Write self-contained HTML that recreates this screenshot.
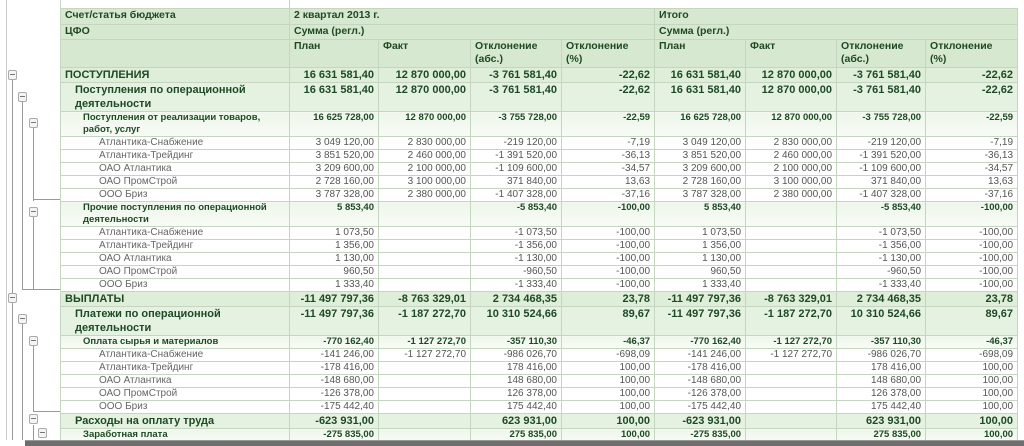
<!DOCTYPE html>
<html><head><meta charset="utf-8"><style>
body{margin:0;width:1024px;height:445px;overflow:hidden;background:#fff;font-family:"Liberation Sans",sans-serif;position:relative}
table{position:absolute;left:60px;top:8px;border-collapse:collapse;table-layout:fixed;width:957px}
td{border:1px solid #c4d6c0;padding:0 4px;vertical-align:top;overflow:hidden;white-space:nowrap;font-size:10px;line-height:13px;color:#1d4a24}
.h td{background:#d6e8d0;font-weight:bold;font-size:10.5px;color:#1e4a22}
td.n{text-align:right}
.l1 td{background:#deeed8;font-weight:bold;font-size:11px;line-height:14px}
.l2 td{background:#e6f2e1;font-weight:bold;font-size:11px;line-height:14px}
.l3 td{background:linear-gradient(#eef6ea,#f8fbf6);font-weight:bold;font-size:9.5px;line-height:12px}
.lf td{background:#fff;color:#666;font-size:10px;line-height:12px}
.lf td.n{color:#555}
.l2 td:first-child{padding-left:14px}.l3 td:first-child{padding-left:22px}.lf td:first-child{padding-left:38px}
.v{position:absolute;background:#999;width:1px}.hl{position:absolute;background:#999;height:1px}
.t{position:absolute;width:7px;height:8px;border:1px solid #aaa;background:#f4f4f4;border-radius:2px}
.t:after{content:"";position:absolute;left:1px;right:1px;top:3px;height:1px;background:#777}
</style></head><body>
<div style="position:absolute;left:6px;top:0;width:1px;height:440px;background:#ccc"></div>
<div style="position:absolute;left:60px;top:0;width:957px;height:8px;border-left:1px solid #c4d6c0"></div>
<div style="position:absolute;left:289px;top:0;width:1px;height:8px;background:#c4d6c0"></div>
<div class="v" style="left:12px;top:76px;height:224px"></div>
<div class="v" style="left:22px;top:98px;height:192px"></div>
<div class="v" style="left:33px;top:126px;height:75px"></div>
<div class="hl" style="left:33px;top:199px;width:27px"></div>
<div class="v" style="left:33px;top:215px;height:74px"></div>
<div class="hl" style="left:22px;top:289px;width:38px"></div>
<div class="v" style="left:12px;top:300px;height:140px"></div>
<div class="v" style="left:22px;top:320px;height:120px"></div>
<div class="v" style="left:33px;top:344px;height:68px"></div>
<div class="hl" style="left:33px;top:411px;width:27px"></div>
<div class="v" style="left:33px;top:425px;height:15px"></div>
<div class="t" style="left:8px;top:70px"></div>
<div class="t" style="left:18px;top:92px"></div>
<div class="t" style="left:29px;top:118px"></div>
<div class="t" style="left:29px;top:207px"></div>
<div class="t" style="left:8px;top:293px"></div>
<div class="t" style="left:18px;top:314px"></div>
<div class="t" style="left:29px;top:336px"></div>
<div class="t" style="left:29px;top:414px"></div>
<div class="t" style="left:38px;top:428px"></div>
<table>
<colgroup><col style="width:229px"><col style="width:89px"><col style="width:92px"><col style="width:91px"><col style="width:93px"><col style="width:91px"><col style="width:91px"><col style="width:89px"><col style="width:92px"></colgroup>
<tr class="h" style="height:16px"><td>Счет/статья бюджета</td><td colspan="4">2 квартал 2013 г.</td><td colspan="4">Итого</td></tr>
<tr class="h" style="height:15px"><td>ЦФО</td><td colspan="4">Сумма (регл.)</td><td colspan="4">Сумма (регл.)</td></tr>
<tr class="h" style="height:28px"><td></td><td>План</td><td>Факт</td><td>Отклонение<br>(абс.)</td><td>Отклонение<br>(%)</td><td>План</td><td>Факт</td><td>Отклонение<br>(абс.)</td><td>Отклонение<br>(%)</td></tr>
<tr class="l1" style="height:14px"><td>ПОСТУПЛЕНИЯ</td><td class="n">16 631 581,40</td><td class="n">12 870 000,00</td><td class="n">-3 761 581,40</td><td class="n">-22,62</td><td class="n">16 631 581,40</td><td class="n">12 870 000,00</td><td class="n">-3 761 581,40</td><td class="n">-22,62</td></tr>
<tr class="l2" style="height:29px"><td>Поступления по операционной<br>деятельности</td><td class="n">16 631 581,40</td><td class="n">12 870 000,00</td><td class="n">-3 761 581,40</td><td class="n">-22,62</td><td class="n">16 631 581,40</td><td class="n">12 870 000,00</td><td class="n">-3 761 581,40</td><td class="n">-22,62</td></tr>
<tr class="l3" style="height:24px"><td>Поступления от реализации товаров,<br>работ, услуг</td><td class="n">16 625 728,00</td><td class="n">12 870 000,00</td><td class="n">-3 755 728,00</td><td class="n">-22,59</td><td class="n">16 625 728,00</td><td class="n">12 870 000,00</td><td class="n">-3 755 728,00</td><td class="n">-22,59</td></tr>
<tr class="lf" style="height:13px"><td>Атлантика-Снабжение</td><td class="n">3 049 120,00</td><td class="n">2 830 000,00</td><td class="n">-219 120,00</td><td class="n">-7,19</td><td class="n">3 049 120,00</td><td class="n">2 830 000,00</td><td class="n">-219 120,00</td><td class="n">-7,19</td></tr>
<tr class="lf" style="height:13px"><td>Атлантика-Трейдинг</td><td class="n">3 851 520,00</td><td class="n">2 460 000,00</td><td class="n">-1 391 520,00</td><td class="n">-36,13</td><td class="n">3 851 520,00</td><td class="n">2 460 000,00</td><td class="n">-1 391 520,00</td><td class="n">-36,13</td></tr>
<tr class="lf" style="height:13px"><td>ОАО Атлантика</td><td class="n">3 209 600,00</td><td class="n">2 100 000,00</td><td class="n">-1 109 600,00</td><td class="n">-34,57</td><td class="n">3 209 600,00</td><td class="n">2 100 000,00</td><td class="n">-1 109 600,00</td><td class="n">-34,57</td></tr>
<tr class="lf" style="height:13px"><td>ОАО ПромСтрой</td><td class="n">2 728 160,00</td><td class="n">3 100 000,00</td><td class="n">371 840,00</td><td class="n">13,63</td><td class="n">2 728 160,00</td><td class="n">3 100 000,00</td><td class="n">371 840,00</td><td class="n">13,63</td></tr>
<tr class="lf" style="height:13px"><td>ООО Бриз</td><td class="n">3 787 328,00</td><td class="n">2 380 000,00</td><td class="n">-1 407 328,00</td><td class="n">-37,16</td><td class="n">3 787 328,00</td><td class="n">2 380 000,00</td><td class="n">-1 407 328,00</td><td class="n">-37,16</td></tr>
<tr class="l3" style="height:25px"><td>Прочие поступления по операционной<br>деятельности</td><td class="n">5 853,40</td><td></td><td class="n">-5 853,40</td><td class="n">-100,00</td><td class="n">5 853,40</td><td></td><td class="n">-5 853,40</td><td class="n">-100,00</td></tr>
<tr class="lf" style="height:13px"><td>Атлантика-Снабжение</td><td class="n">1 073,50</td><td></td><td class="n">-1 073,50</td><td class="n">-100,00</td><td class="n">1 073,50</td><td></td><td class="n">-1 073,50</td><td class="n">-100,00</td></tr>
<tr class="lf" style="height:13px"><td>Атлантика-Трейдинг</td><td class="n">1 356,00</td><td></td><td class="n">-1 356,00</td><td class="n">-100,00</td><td class="n">1 356,00</td><td></td><td class="n">-1 356,00</td><td class="n">-100,00</td></tr>
<tr class="lf" style="height:13px"><td>ОАО Атлантика</td><td class="n">1 130,00</td><td></td><td class="n">-1 130,00</td><td class="n">-100,00</td><td class="n">1 130,00</td><td></td><td class="n">-1 130,00</td><td class="n">-100,00</td></tr>
<tr class="lf" style="height:13px"><td>ОАО ПромСтрой</td><td class="n">960,50</td><td></td><td class="n">-960,50</td><td class="n">-100,00</td><td class="n">960,50</td><td></td><td class="n">-960,50</td><td class="n">-100,00</td></tr>
<tr class="lf" style="height:13px"><td>ООО Бриз</td><td class="n">1 333,40</td><td></td><td class="n">-1 333,40</td><td class="n">-100,00</td><td class="n">1 333,40</td><td></td><td class="n">-1 333,40</td><td class="n">-100,00</td></tr>
<tr class="l1" style="height:14px"><td>ВЫПЛАТЫ</td><td class="n">-11 497 797,36</td><td class="n">-8 763 329,01</td><td class="n">2 734 468,35</td><td class="n">23,78</td><td class="n">-11 497 797,36</td><td class="n">-8 763 329,01</td><td class="n">2 734 468,35</td><td class="n">23,78</td></tr>
<tr class="l2" style="height:28px"><td>Платежи по операционной<br>деятельности</td><td class="n">-11 497 797,36</td><td class="n">-1 187 272,70</td><td class="n">10 310 524,66</td><td class="n">89,67</td><td class="n">-11 497 797,36</td><td class="n">-1 187 272,70</td><td class="n">10 310 524,66</td><td class="n">89,67</td></tr>
<tr class="l3" style="height:13px"><td>Оплата сырья и материалов</td><td class="n">-770 162,40</td><td class="n">-1 127 272,70</td><td class="n">-357 110,30</td><td class="n">-46,37</td><td class="n">-770 162,40</td><td class="n">-1 127 272,70</td><td class="n">-357 110,30</td><td class="n">-46,37</td></tr>
<tr class="lf" style="height:13px"><td>Атлантика-Снабжение</td><td class="n">-141 246,00</td><td class="n">-1 127 272,70</td><td class="n">-986 026,70</td><td class="n">-698,09</td><td class="n">-141 246,00</td><td class="n">-1 127 272,70</td><td class="n">-986 026,70</td><td class="n">-698,09</td></tr>
<tr class="lf" style="height:13px"><td>Атлантика-Трейдинг</td><td class="n">-178 416,00</td><td></td><td class="n">178 416,00</td><td class="n">100,00</td><td class="n">-178 416,00</td><td></td><td class="n">178 416,00</td><td class="n">100,00</td></tr>
<tr class="lf" style="height:13px"><td>ОАО Атлантика</td><td class="n">-148 680,00</td><td></td><td class="n">148 680,00</td><td class="n">100,00</td><td class="n">-148 680,00</td><td></td><td class="n">148 680,00</td><td class="n">100,00</td></tr>
<tr class="lf" style="height:13px"><td>ОАО ПромСтрой</td><td class="n">-126 378,00</td><td></td><td class="n">126 378,00</td><td class="n">100,00</td><td class="n">-126 378,00</td><td></td><td class="n">126 378,00</td><td class="n">100,00</td></tr>
<tr class="lf" style="height:13px"><td>ООО Бриз</td><td class="n">-175 442,40</td><td></td><td class="n">175 442,40</td><td class="n">100,00</td><td class="n">-175 442,40</td><td></td><td class="n">175 442,40</td><td class="n">100,00</td></tr>
<tr class="l2" style="height:14px"><td>Расходы на оплату труда</td><td class="n">-623 931,00</td><td></td><td class="n">623 931,00</td><td class="n">100,00</td><td class="n">-623 931,00</td><td></td><td class="n">623 931,00</td><td class="n">100,00</td></tr>
<tr class="l3" style="height:14px"><td>Заработная плата</td><td class="n">-275 835,00</td><td></td><td class="n">275 835,00</td><td class="n">100,00</td><td class="n">-275 835,00</td><td></td><td class="n">275 835,00</td><td class="n">100,00</td></tr>
</table>
<div style="position:absolute;left:25px;top:440px;width:1000px;height:5px;background:#6e6e6e;border-top:1px solid #999"></div>
</body></html>
